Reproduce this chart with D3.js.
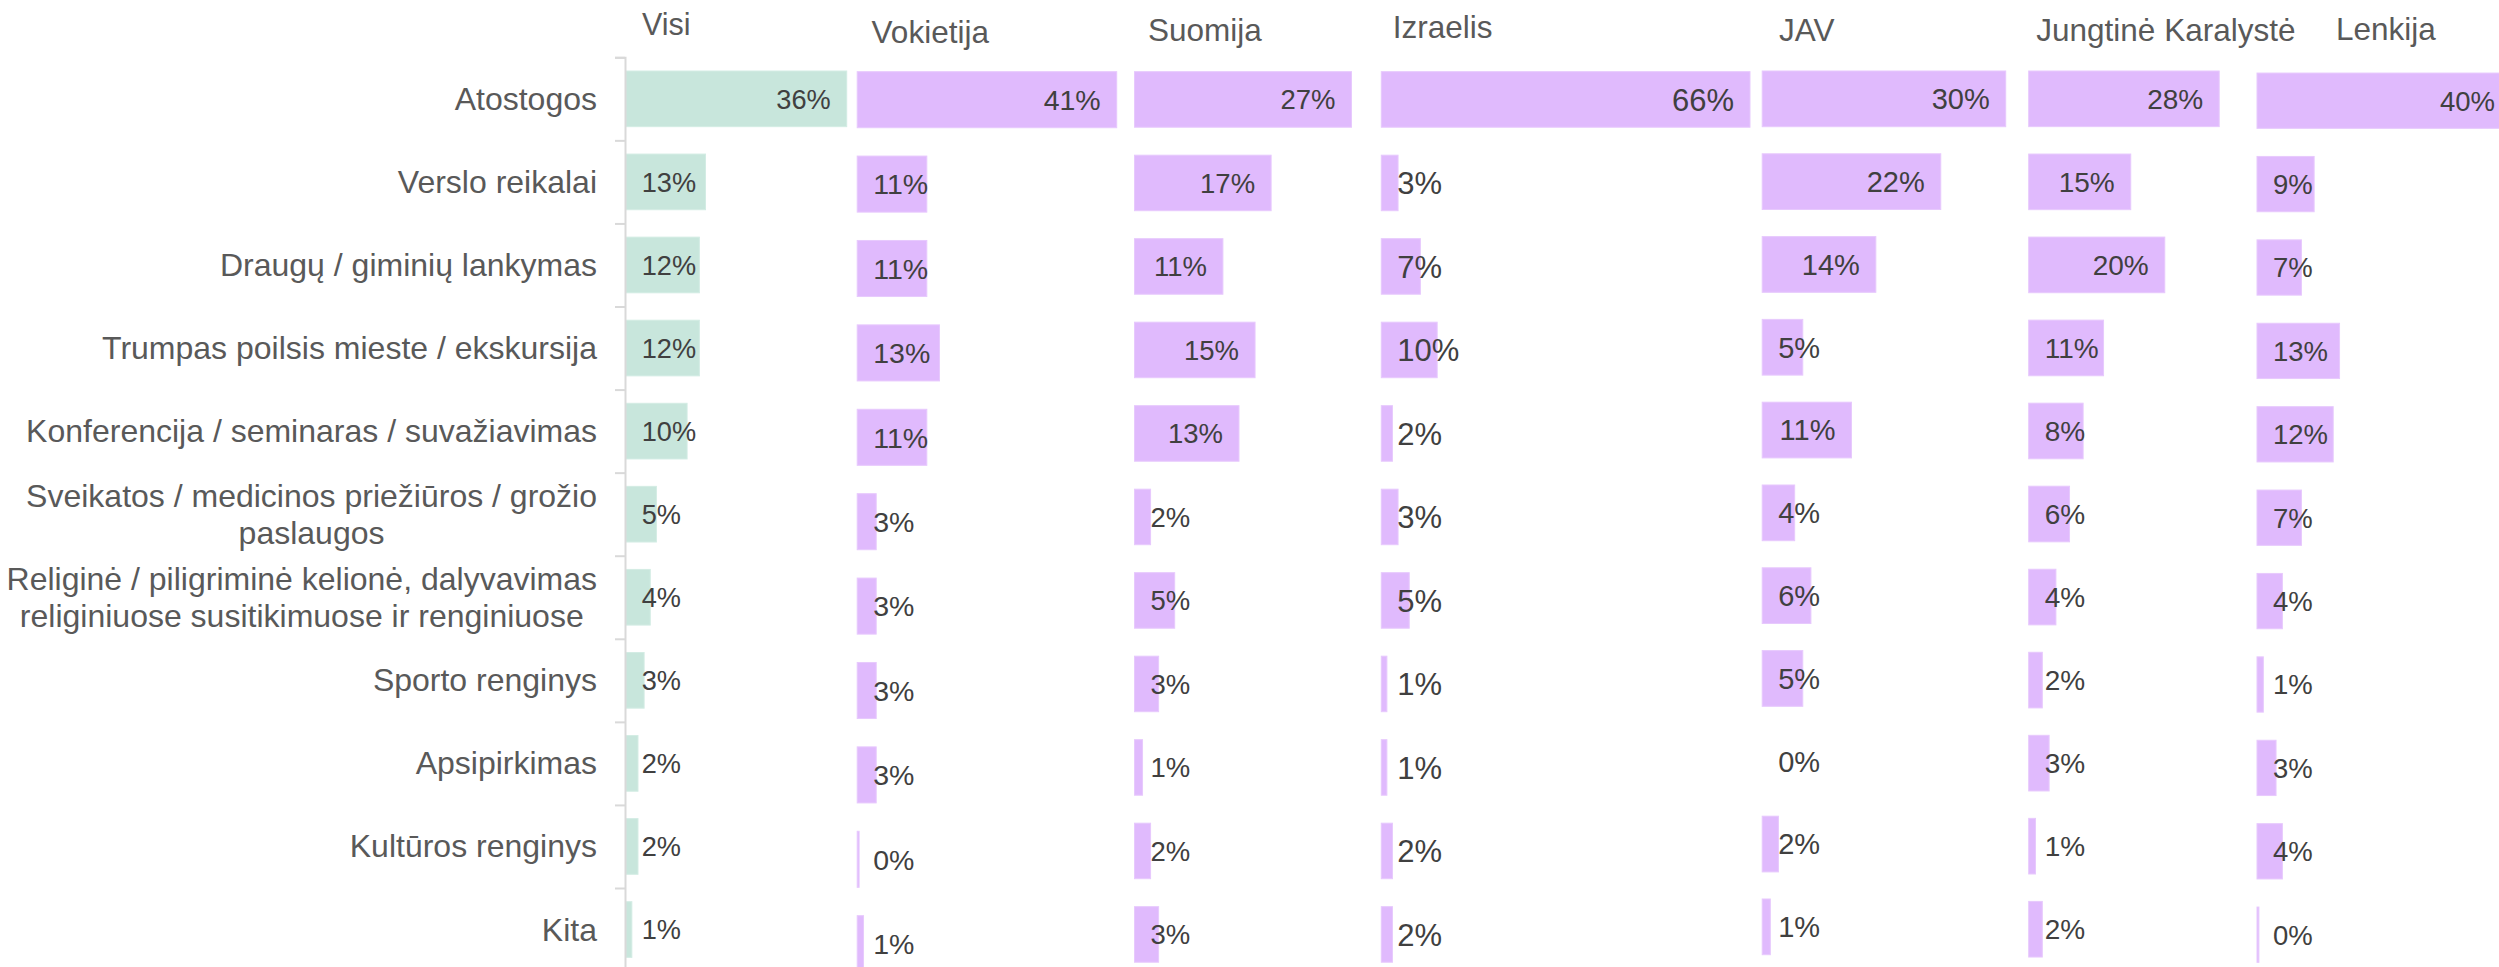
<!DOCTYPE html>
<html>
<head>
<meta charset="utf-8">
<script src="https://cdn.jsdelivr.net/npm/d3@7"></script>
<style>
  body{margin:0;background:#fff;}
  svg{display:block;font-family:"Liberation Sans",Arial,sans-serif;}
</style>
</head>
<body>
<div id="chart"></div>
<script>
var width=2499,height=967;

// kelionės tikslai (eilutės), \n = naujos eilutės vieta
var categories=[
  'Atostogos',
  'Verslo reikalai',
  'Draugų / giminių lankymas',
  'Trumpas poilsis mieste / ekskursija',
  'Konferencija / seminaras / suvažiavimas',
  'Sveikatos / medicinos priežiūros / grožio\npaslaugos',
  'Religinė / piligriminė kelionė, dalyvavimas\nreliginiuose susitikimuose ir renginiuose',
  'Sporto renginys',
  'Apsipirkimas',
  'Kultūros renginys',
  'Kita'
];
var countries=['Visi','Vokietija','Suomija','Izraelis','JAV','Jungtinė Karalystė','Lenkija'];

// reikšmės, %
var visi     =[36,13,12,12,10,5,4,3,2,2,1];
var vokietija=[41,11,11,13,11,3,3,3,3,0.3,1];
var suomija  =[27,17,11,15,13,2,5,3,1,2,3];
var izraelis =[66,3,7,10,2,3,5,1,1,2,2];
var jav      =[30,22,14,5,11,4,6,5,0,2,1];
var jk       =[28,15,20,11,8,6,4,2,3,1,2];
var lenkija  =[40,9,7,13,12,7,4,1,3,4,0.3];
var series=[visi,vokietija,suomija,izraelis,jav,jk,lenkija];

// kiekvieno skydelio vieta (x0..x1 = 0..max), juostų juosta, antraštė
var panels=[
  {x0:625.7, x1:846.7, y0:57.3, step:83.07, pad:0.33,  hx:642,    hy:35,   fs:27.2, fill:'#c8e6dc', edge:'#d3ece4'},
  {x0:857.2, x1:1116.7,y0:57.5, step:84.4,  pad:0.336, hx:871.6,  hy:43,   fs:28.5, fill:'#e0bafd', edge:'#e7c9fd'},
  {x0:1134.5,x1:1351.5,y0:57.7, step:83.5,  pad:0.335, hx:1148,   hy:40.7, fs:27.5, fill:'#e0bafd', edge:'#e7c9fd'},
  {x0:1381.3,x1:1750,  y0:57.7, step:83.5,  pad:0.335, hx:1392.8, hy:38.3, fs:31,   fill:'#e0bafd', edge:'#e7c9fd'},
  {x0:1762.2,x1:2005.7,y0:57.45,step:82.8,  pad:0.327, hx:1779,   hy:40.7, fs:29,   fill:'#e0bafd', edge:'#e7c9fd'},
  {x0:2028.7,x1:2219.2,y0:57.3, step:83.04, pad:0.33,  hx:2036.3, hy:40.7, fs:28,   fill:'#e0bafd', edge:'#e7c9fd'},
  {x0:2257,  x1:2511,  y0:59,   step:83.4,  pad:0.337, hx:2336,   hy:40,   fs:27.5, fill:'#e0bafd', edge:'#e7c9fd'}
];

var svg=d3.select('#chart')
    .append('svg')
    .attr('width',width)
    .attr('height',height);

var pct=function(d){return Math.round(d)+'%';};

panels.forEach(function(p,i){
  var vals=series[i];
  var x=d3.scaleLinear()
      .domain([0,d3.max(vals)])
      .range([p.x0,p.x1]);
  var y=d3.scaleBand()
      .domain(categories)
      .range([p.y0,p.y0+p.step*categories.length])
      .paddingInner(p.pad)
      .paddingOuter(p.pad/2);

  var g=svg.append('g');

  // antraštė
  g.append('text')
    .attr('x',p.hx)
    .attr('y',p.hy)
    .attr('font-size',i==0?30.5:31.5)
    .attr('fill','#595959')
    .text(countries[i]);

  g.selectAll('rect')
    .data(vals)
    .enter().append('rect')
    .attr('x',x(0))
    .attr('y',function(d,j){return y(categories[j]);})
    .attr('width',function(d){return x(d)-x(0);})
    .attr('height',y.bandwidth())
    .attr('fill',p.fill)
    .attr('stroke',function(d){return d>0?p.edge:'none';})
    .attr('stroke-width',1);

  // reikšmių žymės: dešinėje juostos viduje, bet ne arčiau pradžios nei 16px
  g.selectAll('text.val')
    .data(vals)
    .enter().append('text')
    .attr('class','val')
    .attr('font-size',p.fs)
    .attr('fill','#404040')
    .attr('y',function(d,j){return y(categories[j])+y.bandwidth()/2;})
    .attr('dy','0.36em')
    .text(pct)
    .attr('x',function(d){
      var w=this.getComputedTextLength();
      return Math.max(x(0)+16,x(d)-16-w);
    });

  // kategorijų ašis tik pirmame skydelyje
  if(i==0){
    var bounds=d3.scaleLinear()
        .domain([0,categories.length])
        .range([y.range()[0],y.range()[1]]);
    var axis=g.append('g')
        .attr('transform','translate('+(x(0)-0.7)+',0)')
        .call(d3.axisLeft(bounds)
          .tickValues(d3.range(categories.length+1))
          .tickSize(10)
          .tickFormat(''));
    axis.selectAll('path,line')
        .attr('stroke','#d9d9d9')
        .attr('stroke-width',2);

    var lab=g.selectAll('g.cat')
        .data(categories)
        .enter().append('g')
        .attr('class','cat');
    lab.each(function(c){
      var lines=c.split('\n');
      var cy=y(c)+y.bandwidth()/2;
      var lh=37;
      var t=d3.select(this).selectAll('text')
          .data(lines)
          .enter().append('text')
          .attr('font-size',32)
          .attr('fill','#595959')
          .attr('y',function(d,k){return cy+11+(k-(lines.length-1)/2)*lh;})
          .text(function(d){return d;});
      var maxW=0;
      t.each(function(){maxW=Math.max(maxW,this.getComputedTextLength());});
      if(lines.length>1){
        t.attr('text-anchor','middle').attr('x',597-maxW/2);
      }else{
        t.attr('text-anchor','end').attr('x',597);
      }
    });
  }
});
</script>
</body>
</html>
